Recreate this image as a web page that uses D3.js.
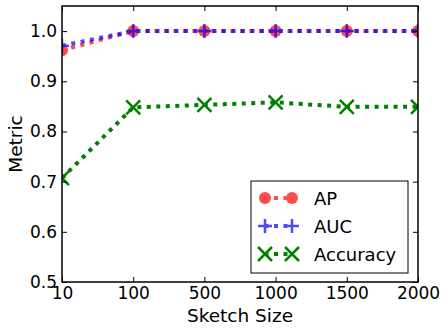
<!DOCTYPE html>
<html>
<head>
<meta charset="utf-8">
<script src="https://cdn.jsdelivr.net/npm/d3@7"></script>
<style>
  body { margin: 0; background: #fff; }
  text { font-family: "DejaVu Sans", sans-serif; }
</style>
</head>
<body>
<div id="chart"></div>
<script>
const sizes = ['10', '100', '500', '1000', '1500', '2000']
const apValues = [0.962, 1.0, 1.0, 1.0, 1.0, 1.0]
const aucValues = [0.971, 1.0, 1.0, 1.0, 1.0, 1.0]
const accValues = [0.707, 0.848, 0.853, 0.858, 0.849, 0.849]
const yTicks = [0.5, 0.6, 0.7, 0.8, 0.9, 1.0]

const series = [
  { name: 'AP', values: apValues, color: '#ff0000', opacity: 0.7, marker: 'circle' },
  { name: 'AUC', values: aucValues, color: '#0000ff', opacity: 0.7, marker: 'plus' },
  { name: 'Accuracy', values: accValues, color: '#008000', opacity: 1, marker: 'x' }
]

const W = 448, H = 332
const m = { left: 62, right: 30, top: 6, bottom: 50 }

const svg = d3.select('#chart').append('svg')
  .attr('width', W)
  .attr('height', H)

const x = d3.scalePoint().domain(sizes).range([m.left, W - m.right])
const y = d3.scaleLinear().domain([0.5, 1.05]).range([H - m.bottom, m.top])

svg.append('defs').append('clipPath').attr('id', 'plotclip')
  .append('rect')
  .attr('x', m.left).attr('y', m.top)
  .attr('width', W - m.right - m.left).attr('height', H - m.bottom - m.top)

function drawMarker(g, type, cx, cy, color) {
  if (type === 'circle') {
    g.append('circle').attr('cx', cx).attr('cy', cy).attr('r', 6).attr('fill', color)
  } else if (type === 'plus') {
    g.append('path')
      .attr('d', `M${cx - 7},${cy}H${cx + 7}M${cx},${cy - 7}V${cy + 7}`)
      .attr('stroke', color).attr('stroke-width', 2.5).attr('fill', 'none')
  } else {
    g.append('path')
      .attr('d', `M${cx - 7},${cy - 7}L${cx + 7},${cy + 7}M${cx - 7},${cy + 7}L${cx + 7},${cy - 7}`)
      .attr('stroke', color).attr('stroke-width', 2.5).attr('fill', 'none')
  }
}

const plot = svg.append('g').attr('clip-path', 'url(#plotclip)')
const line = d3.line().x((d, i) => x(sizes[i])).y(d => y(d))

series.forEach(s => {
  const g = plot.append('g').attr('opacity', s.opacity)
  g.append('path')
    .datum(s.values)
    .attr('d', line)
    .attr('fill', 'none')
    .attr('stroke', s.color)
    .attr('stroke-width', 4)
    .attr('stroke-dasharray', '4,5.5')
  s.values.forEach((v, i) => drawMarker(g, s.marker, x(sizes[i]), y(v), s.color))
})

// axes with inward ticks on all sides
const xAxisB = d3.axisBottom(x).tickSizeInner(-5).tickSizeOuter(0).tickPadding(5)
const xAxisT = d3.axisTop(x).tickSizeInner(-5).tickSizeOuter(0).tickFormat('')
const yAxisL = d3.axisLeft(y).tickValues(yTicks).tickFormat(d3.format('.1f'))
  .tickSizeInner(-5).tickSizeOuter(0).tickPadding(5)
const yAxisR = d3.axisRight(y).tickValues(yTicks).tickFormat('')
  .tickSizeInner(-5).tickSizeOuter(0)

function styleAxis(g) {
  g.select('.domain').remove()
  g.selectAll('.tick line').attr('stroke', '#000').attr('stroke-width', 1)
  g.selectAll('.tick text').attr('font-size', 17).attr('fill', '#000')
    .style('font-family', '"DejaVu Sans", sans-serif')
}

svg.append('g').attr('transform', `translate(0,${H - m.bottom})`).call(xAxisB).call(styleAxis)
svg.append('g').attr('transform', `translate(0,${m.top})`).call(xAxisT).call(styleAxis)
svg.append('g').attr('transform', `translate(${m.left},0)`).call(yAxisL).call(styleAxis)
svg.append('g').attr('transform', `translate(${W - m.right},0)`).call(yAxisR).call(styleAxis)

svg.append('rect')
  .attr('x', m.left).attr('y', m.top)
  .attr('width', W - m.right - m.left).attr('height', H - m.bottom - m.top)
  .attr('fill', 'none').attr('stroke', '#000').attr('stroke-width', 1.5)

svg.append('text')
  .attr('x', (m.left + W - m.right) / 2).attr('y', 322)
  .attr('text-anchor', 'middle').attr('font-size', 18.5)
  .text('Sketch Size')

svg.append('text')
  .attr('transform', `translate(22,${(m.top + H - m.bottom) / 2}) rotate(-90)`)
  .attr('text-anchor', 'middle').attr('font-size', 18.5)
  .text('Metric')

// legend
const lg = svg.append('g')
lg.append('rect')
  .attr('x', 251).attr('y', 181).attr('width', 157).attr('height', 92)
  .attr('fill', '#fff').attr('stroke', '#000').attr('stroke-width', 1)

series.forEach((s, i) => {
  const ly = 198 + i * 28
  const g = lg.append('g').attr('opacity', s.opacity)
  g.append('line')
    .attr('x1', 265).attr('x2', 292).attr('y1', ly).attr('y2', ly)
    .attr('stroke', s.color).attr('stroke-width', 4)
    .attr('stroke-dasharray', '4,5.5').attr('stroke-dashoffset', -9)
  drawMarker(g, s.marker, 265, ly, s.color)
  drawMarker(g, s.marker, 292, ly, s.color)
  lg.append('text')
    .attr('x', 314).attr('y', ly + 7)
    .attr('font-size', 18)
    .text(s.name)
})
</script>
</body>
</html>
